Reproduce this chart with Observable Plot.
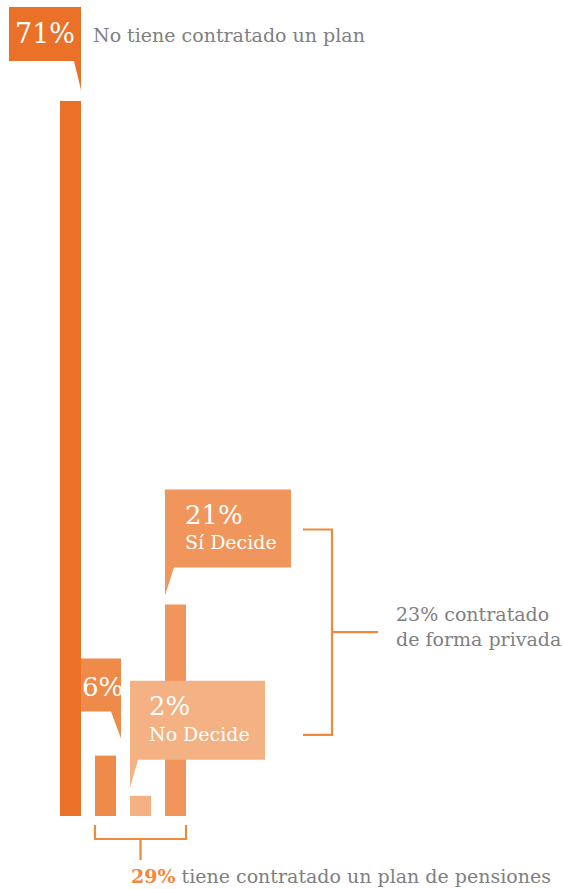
<!DOCTYPE html>
<html>
<head>
<meta charset="utf-8">
<script src="https://cdn.jsdelivr.net/npm/d3@7"></script>
<script src="https://cdn.jsdelivr.net/npm/@observablehq/plot@0.6"></script>
<style>
  html, body { margin: 0; padding: 0; background: #fff; }
  #chart svg { display: block; }
</style>
</head>
<body>
<div id="chart"></div>
<script>
// ---- data ----
const categories = ["noPlan", "otro", "noDecide", "siDecide"];
const values = [71, 6, 2, 21];
const subLabels = ["", "", "No Decide", "Sí Decide"];
const headerLabel = "No tiene contratado un plan";
const privateLabel = ["23% contratado", "de forma privada"];
const totalPct = "29%";
const totalLabel = " tiene contratado un plan de pensiones";

// ---- styles ----
const barColors = ["#EA7127", "#EE8A4A", "#F4B183", "#F0965C"];
const bracketColor = "#F0893A";
const grayText = "#808080";
const font = "'DejaVu Serif', serif";
const small = 19;

const data = categories.map((c, i) => ({cat: c, value: values[i]}));

const W = 564, H = 889;
const plot = Plot.plot({
  width: W,
  height: H,
  marginTop: 101,
  marginBottom: 73,
  marginLeft: 53,
  marginRight: 371,
  style: {background: "#fff", fontFamily: font},
  x: {domain: categories, paddingInner: 0.4, paddingOuter: 0.2, axis: null},
  y: {domain: [0, 71], axis: null},
  color: {domain: categories, range: barColors},
  marks: [
    Plot.barY(data, {x: "cat", y: "value", fill: "cat"})
  ]
});
document.getElementById("chart").appendChild(plot);

const xs = plot.scale("x"), ys = plot.scale("y");
const bw = xs.bandwidth;
const svg = d3.select(plot);
const g = svg.append("g").attr("text-anchor", "start");
const bar = i => {
  const xL = xs.apply(categories[i]);
  return {xL, xR: xL + bw, yT: ys.apply(values[i])};
};
const poly = (pts, fill) => g.append("polygon").attr("points", pts.map(p => p.join(",")).join(" ")).attr("fill", fill);
const txt = (x, y, s, size, fill) =>
  g.append("text").attr("x", x).attr("y", y).attr("font-family", font)
    .attr("font-size", size).attr("fill", fill).attr("text-anchor", "start").text(s);

// 71% callout
{
  const b = bar(0);
  const bottom = b.yT - 40, top = bottom - 54, left = 9;
  poly([[left, top], [b.xR, top], [b.xR, b.yT - 11], [b.xR - 7, bottom], [left, bottom]], barColors[0]);
  txt(left + 6, top + 36, values[0] + "%", 27, "#fff");
  txt(93, top + 35, headerLabel, small, grayText);
}
// 6% callout
{
  const b = bar(1);
  const a = bar(0);
  const bottom = b.yT - 44, top = bottom - 53, left = a.xR, right = b.xR + 5;
  poly([[left, top], [right, top], [right, b.yT - 17], [right - 10, bottom], [left, bottom]], barColors[1]);
  txt(left + 1, top + 37, values[1] + "%", 26, "#fff");
}
// 2% callout
let box2Top;
{
  const b = bar(2);
  const top = b.yT - 115, bottom = top + 79, left = b.xL, right = left + 135;
  box2Top = top;
  poly([[left, top], [right, top], [right, bottom], [left + 8, bottom], [left, b.yT - 8]], barColors[2]);
  txt(left + 19, top + 34, values[2] + "%", 26, "#fff");
  txt(left + 19, top + 60, subLabels[2], small, "#fff");
}
// 21% callout
let box21Top;
{
  const b = bar(3);
  const top = b.yT - 115, bottom = top + 78, left = b.xL, right = left + 126;
  box21Top = top;
  poly([[left, top], [right, top], [right, bottom], [left + 9, bottom], [left, b.yT - 9]], barColors[3]);
  txt(left + 20, top + 34, values[3] + "%", 26, "#fff");
  txt(left + 20, top + 59, subLabels[3], small, "#fff");
}
// right bracket
{
  const yTop = box21Top + 40, yBot = box2Top + 54, xV = 332, mid = (yTop + yBot) / 2;
  g.append("path").attr("d", `M303,${yTop}H${xV}V${yBot}H303 M${xV},${mid}H378`)
    .attr("fill", "none").attr("stroke", bracketColor).attr("stroke-width", 2.2);
  txt(396, mid - 11, privateLabel[0], small, grayText);
  txt(396, mid + 14, privateLabel[1], small, grayText);
}
// bottom bracket
{
  const l = bar(1).xL, r = bar(3).xR, c = (l + r) / 2;
  const y0 = ys.apply(0);
  g.append("path").attr("d", `M${l},${y0 + 9}V${y0 + 23}H${r}V${y0 + 9} M${c},${y0 + 23}V${y0 + 44}`)
    .attr("fill", "none").attr("stroke", bracketColor).attr("stroke-width", 2.2);
  const t = g.append("text").attr("x", 131).attr("y", y0 + 67).attr("font-family", font)
    .attr("font-size", small).attr("text-anchor", "start");
  t.append("tspan").attr("fill", bracketColor).attr("font-weight", "bold").text(totalPct);
  t.append("tspan").attr("fill", grayText).text(totalLabel);
}
</script>
</body>
</html>
